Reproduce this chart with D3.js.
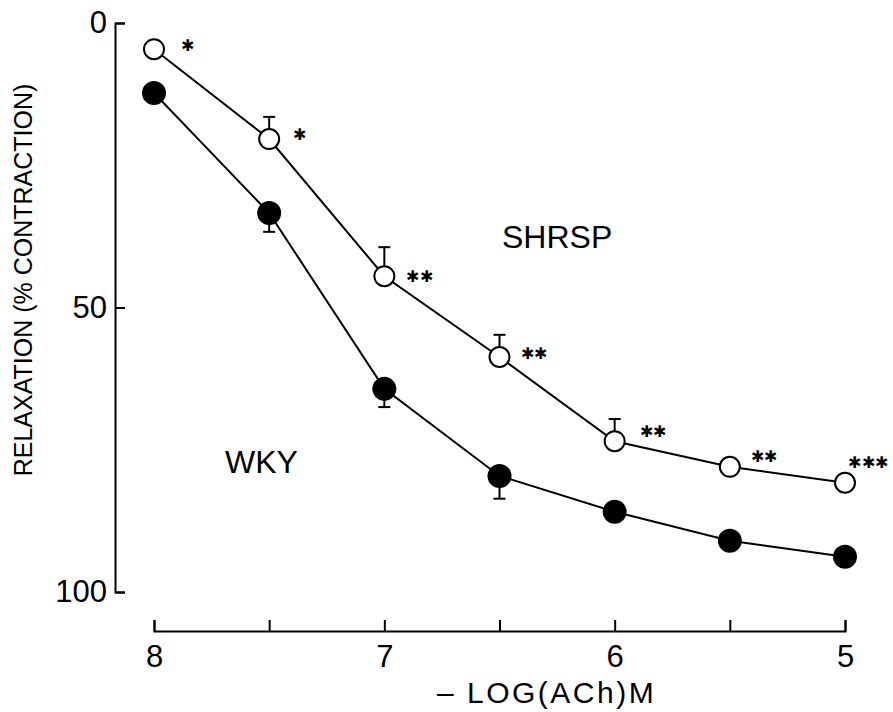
<!DOCTYPE html>
<html>
<head>
<meta charset="utf-8">
<script src="https://cdn.jsdelivr.net/npm/d3@7"></script>
<style>
  html, body { margin: 0; padding: 0; background: #fff; }
  svg { display: block; }
  text { font-family: "Liberation Sans", Arial, Helvetica, sans-serif; fill: #000; }
</style>
</head>
<body>
<svg id="chart" width="893" height="712"></svg>
<script>
// -log[ACh] (M) concentrations
const doses = [8, 7.5, 7, 6.5, 6, 5.5, 5];

// Relaxation (% of contraction), mean and SEM
const shrspMean = [4.6, 20.4, 44.5, 58.7, 73.5, 78.0, 80.8];
const shrspSem  = [0, 3.9, 5.1, 3.9, 3.9, 0, 0];
const wkyMean   = [12.3, 33.4, 64.3, 79.6, 85.9, 91.0, 93.8];
const wkySem    = [0, 3.3, 3.2, 4.0, 0, 0, 0];

// Significance marks, SHRSP vs WKY
const signif = ["*", "*", "**", "**", "**", "**", "***"];
// Pixel offsets of each significance mark from its point
const signifOffset = [[27, -4], [24, -5], [22, 0], [21, -4], [25, -10], [21, -10], [3, -20]];

const yTicks = [0, 50, 100];
const xTicks = [8, 7.5, 7, 6.5, 6, 5.5, 5];

const svg = d3.select("#chart");

const x = d3.scaleLinear().domain([8, 5]).range([154, 845]);
const y = d3.scaleLinear().domain([0, 100]).range([23, 592]);

// Y axis: ticks point into the plot
const yAxis = d3.axisLeft(y)
  .tickValues(yTicks)
  .tickSizeInner(-10)
  .tickSizeOuter(-10)
  .tickPadding(8)
  .tickFormat(d3.format("d"));

const gy = svg.append("g").attr("transform", "translate(115,0)").call(yAxis);
gy.selectAll("path, line").attr("stroke", "#000").attr("stroke-width", 2);
gy.selectAll("text").attr("font-size", 31).attr("font-family", "Liberation Sans, Arial, sans-serif").attr("fill", "#000");

// X axis: detached below the plot, ticks every half unit, labels on integers
const xAxis = d3.axisBottom(x)
  .tickValues(xTicks)
  .tickSizeInner(-11)
  .tickSizeOuter(-11)
  .tickPadding(14)
  .tickFormat(d => Number.isInteger(d) ? d3.format("d")(d) : "");

const gx = svg.append("g").attr("transform", "translate(0,631)").call(xAxis);
gx.selectAll("path, line").attr("stroke", "#000").attr("stroke-width", 2);
gx.selectAll("text").attr("font-size", 31).attr("font-family", "Liberation Sans, Arial, sans-serif").attr("fill", "#000");

// Axis titles
svg.append("text")
  .attr("x", 437).attr("y", 703)
  .attr("font-size", 30)
  .attr("letter-spacing", 2.5)
  .text("– LOG(ACh)M");

svg.append("text")
  .attr("transform", "translate(32,280) rotate(-90)")
  .attr("text-anchor", "middle")
  .attr("font-size", 25)
  .text("RELAXATION (% CONTRACTION)");

// Series
const series = [
  { name: "SHRSP", mean: shrspMean, sem: shrspSem, fill: "#fff", dir: -1, r: 10 },
  { name: "WKY",   mean: wkyMean,   sem: wkySem,   fill: "#000", dir: 1,  r: 11 }
];

const line = d3.line().x(d => x(d.dose)).y(d => y(d.v));

series.forEach(s => {
  const pts = doses.map((dose, i) => ({ dose, v: s.mean[i], e: s.sem[i] }));
  const g = svg.append("g");

  g.append("path")
    .datum(pts)
    .attr("d", line)
    .attr("fill", "none")
    .attr("stroke", "#000")
    .attr("stroke-width", 2);

  // one-sided SEM bars (up for SHRSP, down for WKY)
  const eb = g.selectAll(".err").data(pts.filter(p => p.e > 0)).enter().append("g");
  eb.append("line")
    .attr("x1", d => x(d.dose)).attr("x2", d => x(d.dose))
    .attr("y1", d => y(d.v)).attr("y2", d => y(d.v + s.dir * d.e))
    .attr("stroke", "#000").attr("stroke-width", 2);
  eb.append("line")
    .attr("x1", d => x(d.dose) - 6).attr("x2", d => x(d.dose) + 6)
    .attr("y1", d => y(d.v + s.dir * d.e)).attr("y2", d => y(d.v + s.dir * d.e))
    .attr("stroke", "#000").attr("stroke-width", 2);

  g.selectAll("circle").data(pts).enter().append("circle")
    .attr("cx", d => x(d.dose))
    .attr("cy", d => y(d.v))
    .attr("r", s.r)
    .attr("fill", s.fill)
    .attr("stroke", "#000")
    .attr("stroke-width", 2);
});

// Significance marks beside the SHRSP points
svg.selectAll(".sig").data(doses).enter().append("text")
  .attr("class", "sig")
  .attr("x", (d, i) => x(d) + signifOffset[i][0])
  .attr("y", (d, i) => y(shrspMean[i]) + signifOffset[i][1])
  .attr("dominant-baseline", "central")
  .attr("font-family", "DejaVu Sans, sans-serif")
  .attr("font-size", 16)
  .attr("letter-spacing", 0.5)
  .text((d, i) => signif[i].replace(/\*/g, "✱"));

// Series labels
svg.append("text").attr("x", 502).attr("y", 248).attr("font-size", 32).text("SHRSP");
svg.append("text").attr("x", 225).attr("y", 473).attr("font-size", 32).text("WKY");
</script>
</body>
</html>
